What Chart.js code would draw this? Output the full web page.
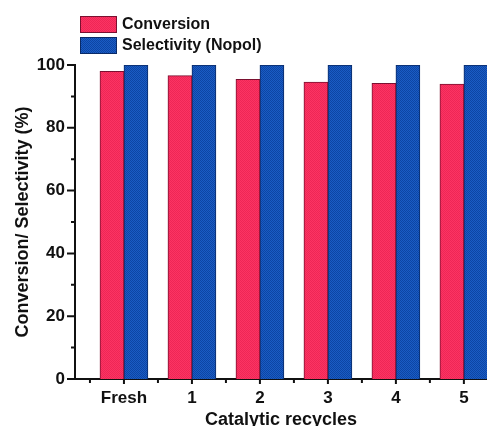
<!DOCTYPE html>
<html>
<head>
<meta charset="utf-8">
<script src="https://cdn.jsdelivr.net/npm/chart.js@4/dist/chart.umd.min.js"></script>
<style>
  html, body { margin: 0; padding: 0; background: #fff; overflow: hidden; }
  #wrap { width: 487px; height: 426px; position: relative; }
</style>
</head>
<body>
<div id="wrap"><canvas id="chart"></canvas></div>
<script>
// values
const categories = ['Fresh', '1', '2', '3', '4', '5']
const conversion = [98.0, 96.6, 95.4, 94.6, 94.2, 93.9]
const selectivity = [100, 100, 100, 100, 100, 100]
const yTickLabels = [0, 20, 40, 60, 80, 100]

// small checker texture like the printed bars
function texture(a, b) {
  const c = document.createElement('canvas')
  c.width = 2; c.height = 2
  const g = c.getContext('2d')
  g.fillStyle = a; g.fillRect(0, 0, 2, 2)
  g.fillStyle = b; g.fillRect(0, 0, 1, 1); g.fillRect(1, 1, 1, 1)
  return g.createPattern(c, 'repeat')
}
const ctx = document.getElementById('chart').getContext('2d')
const redFill = texture('#fc3463', '#ee2656')
const blueFill = texture('#1a5cc4', '#0d45a4')

const FONT = 'Liberation Sans, Arial, sans-serif'

// tick marks: long on labelled ticks, short on the others
const tickMarks = {
  id: 'tickMarks',
  afterDraw(chart) {
    const c = chart.ctx
    const x = chart.scales.x, y = chart.scales.y
    const area = chart.chartArea
    c.save()
    c.strokeStyle = '#111'
    c.lineWidth = 2
    c.beginPath()
    y.ticks.forEach(t => {
      const py = y.getPixelForValue(t.value)
      const len = yTickLabels.includes(t.value) ? 8 : 4
      c.moveTo(area.left, py); c.lineTo(area.left - len, py)
    })
    x.ticks.forEach(t => {
      const px = x.getPixelForValue(t.value)
      const len = Number.isInteger(t.value) ? 5 : 4
      c.moveTo(px, area.bottom); c.lineTo(px, area.bottom + len)
    })
    c.stroke()
    c.restore()
  }
}

// stacked legend above the plot, upper left
const stackedLegend = {
  id: 'stackedLegend',
  afterDraw(chart) {
    const c = chart.ctx
    c.save()
    c.font = 'bold 16px ' + FONT
    c.textBaseline = 'middle'
    chart.data.datasets.forEach((ds, i) => {
      const top = 16 + i * 21
      c.fillStyle = ds.backgroundColor
      c.fillRect(80, top, 37, 17)
      c.strokeStyle = ds.borderColor
      c.lineWidth = 1
      c.strokeRect(80.5, top + 0.5, 36, 16)
      c.fillStyle = '#111'
      c.fillText(ds.label, 122, top + 9)
    })
    c.restore()
  }
}

new Chart(ctx, {
  type: 'bar',
  data: {
    datasets: [
      {
        label: 'Conversion',
        data: conversion.map((v, i) => ({ x: i, y: v })),
        backgroundColor: redFill,
        borderColor: '#7a1030',
        borderWidth: 1,
        barThickness: 24
      },
      {
        label: 'Selectivity (Nopol)',
        data: selectivity.map((v, i) => ({ x: i, y: v })),
        backgroundColor: blueFill,
        borderColor: '#0a2a66',
        borderWidth: 1,
        barThickness: 24
      }
    ]
  },
  options: {
    responsive: true,
    maintainAspectRatio: false,
    animation: false,
    layout: { padding: { top: 65, right: 0, left: 0, bottom: 0 } },
    plugins: {
      legend: { display: false },
      tooltip: { enabled: false }
    },
    scales: {
      x: {
        type: 'linear',
        min: -0.72,
        max: 5.34,
        offset: false,
        afterBuildTicks: s => {
          s.ticks = []
          for (let v = -0.5; v <= categories.length - 1; v += 0.5) s.ticks.push({ value: v })
        },
        afterFit: s => { s.height = 47 },
        grid: { display: false, drawTicks: false, offset: false },
        border: { display: true, color: '#111', width: 2 },
        ticks: {
          autoSkip: false,
          maxRotation: 0,
          padding: 9,
          color: '#111',
          font: { family: FONT, size: 17, weight: 'bold' },
          callback: v => Number.isInteger(v) ? categories[v] : ''
        },
        title: {
          display: true,
          text: 'Catalytic recycles',
          color: '#111',
          padding: { top: 0, bottom: -5 },
          font: { family: FONT, size: 18, weight: 'bold' }
        }
      },
      y: {
        min: 0,
        max: 100,
        afterFit: s => { s.width = 75 },
        grid: { display: false, drawTicks: false },
        border: { display: true, color: '#111', width: 2 },
        ticks: {
          stepSize: 10,
          autoSkip: false,
          padding: 10,
          color: '#111',
          font: { family: FONT, size: 17, weight: 'bold' },
          callback: v => yTickLabels.includes(v) ? v : ''
        },
        title: {
          display: true,
          text: 'Conversion/ Selectivity (%)',
          color: '#111',
          padding: { top: 12, bottom: 0 },
          font: { family: FONT, size: 18, weight: 'bold' }
        }
      }
    }
  },
  plugins: [tickMarks, stackedLegend]
})
</script>
</body>
</html>
